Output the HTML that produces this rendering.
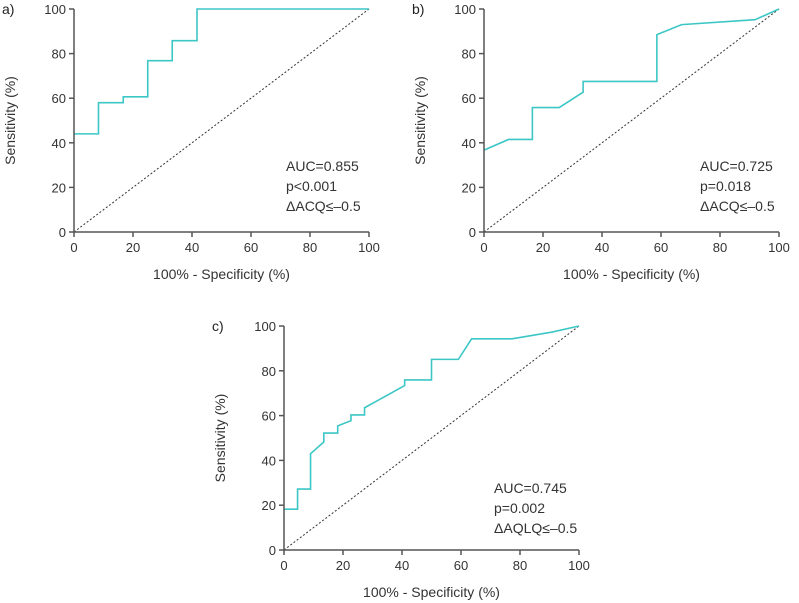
<!DOCTYPE html>
<html><head><meta charset="utf-8"><style>
body{margin:0;background:#fff;}
svg{display:block;font-family:"Liberation Sans","DejaVu Sans",sans-serif;}
</style></head><body>
<svg id="chart" width="799" height="603"></svg>
<script>
const ticks=[0,20,40,60,80,100];
const panelLabels=["a)","b)","c)"];
const aucTexts=[["AUC=0.855","p<0.001","\u0394ACQ\u2264\u20130.5"],["AUC=0.725","p=0.018","\u0394ACQ\u2264\u20130.5"],["AUC=0.745","p=0.002","\u0394AQLQ\u2264\u20130.5"]];
const fprA=[0,8.3,8.3,16.7,16.7,25,25,33.3,33.3,41.7,41.7,100];
const tprA=[44,44,58,58,60.6,60.6,76.8,76.8,85.8,85.8,100,100];
const fprB=[0,8.3,16.4,16.4,25.5,33.6,33.6,58.6,58.6,67,91.9,100];
const tprB=[36.7,41.5,41.5,55.8,55.8,62.7,67.5,67.5,88.5,93,95.2,100];
const fprC=[0,4.6,4.6,9.0,9.0,13.5,13.5,18.2,18.2,22.7,22.7,27.3,27.3,40.9,40.9,50,50,59.1,63.6,77.3,90.9,100];
const tprC=[18.2,18.2,27.2,27.2,43,48.2,52.2,52.2,55.4,57.7,60.3,60.3,63.5,73.4,75.9,75.9,85.1,85.1,94.3,94.3,97.3,100];
const panels=[
 {x0:74,x1:369,y0:232,y1:9,fpr:fprA,tpr:tprA,lx:2,ly:14,tx:286,ty:171},
 {x0:484,x1:779,y0:232,y1:9,fpr:fprB,tpr:tprB,lx:412,ly:14,tx:700,ty:171},
 {x0:284,x1:579,y0:550,y1:326,fpr:fprC,tpr:tprC,lx:212,ly:331,tx:494,ty:493}
];
const svg=document.getElementById('chart');
const NS='http://www.w3.org/2000/svg';
function mk(tag,attrs,parent){const e=document.createElementNS(NS,tag);for(const k in attrs)e.setAttribute(k,attrs[k]);parent.appendChild(e);return e;}
panels.forEach((p,i)=>{
 const sx=v=>p.x0+(p.x1-p.x0)*v/100, sy=v=>p.y0+(p.y1-p.y0)*v/100;
 const g=mk('g',{},svg);
 
 
 const lab=mk('text',{x:p.lx,y:p.ly,'font-size':14,fill:'#222'},g);lab.textContent=panelLabels[i];
 
 
 const diag=mk('line',{x1:sx(0),y1:sy(0),x2:sx(100),y2:sy(100),stroke:'#333','stroke-width':1,'stroke-dasharray':'2,2'},g);
 
 
 const pts=p.fpr.map((f,j)=>sx(f)+','+sy(p.tpr[j])).join(' ');
 const line=mk('polyline',{points:pts,fill:'none',stroke:'#3cc6c6','stroke-width':1.6},g);
 
 
 const ax=mk('path',{d:`M${sx(0)} ${sy(100)}V${sy(0)}H${sx(100)}`,stroke:'#555','stroke-width':1.5,fill:'none'},g);
 
 
 ticks.forEach(t=>{
  mk('line',{x1:sx(t),x2:sx(t),y1:sy(0),y2:sy(0)+5,stroke:'#555','stroke-width':1.5},g);
  mk('line',{x1:sx(0)-5,x2:sx(0),y1:sy(t),y2:sy(t),stroke:'#555','stroke-width':1.5},g);
  const xt=mk('text',{x:sx(t),y:sy(0)+20,'font-size':13,'text-anchor':'middle',fill:'#333'},g);xt.textContent=t;
  
  
  const yt=mk('text',{x:sx(0)-8,y:sy(t)+5,'font-size':13,'text-anchor':'end',fill:'#333'},g);yt.textContent=t;
  
  
 });
 const xl=mk('text',{x:(p.x0+p.x1)/2,y:p.y0+47,'font-size':14,'text-anchor':'middle',fill:'#333'},g);xl.textContent='100% - Specificity (%)';
 
 
 const yx=p.x0-59, yy=(p.y0+p.y1)/2;
 const yl=mk('text',{x:yx,y:yy,'font-size':14,'text-anchor':'middle',fill:'#333',transform:`rotate(-90 ${yx} ${yy})`},g);yl.textContent='Sensitivity (%)';
 
 
 aucTexts[i].forEach((s,k)=>{
  const t=mk('text',{x:p.tx,y:p.ty+k*20,'font-size':14,fill:'#333'},g);t.textContent=s;
  
  
 });
});
</script>
</body></html>
